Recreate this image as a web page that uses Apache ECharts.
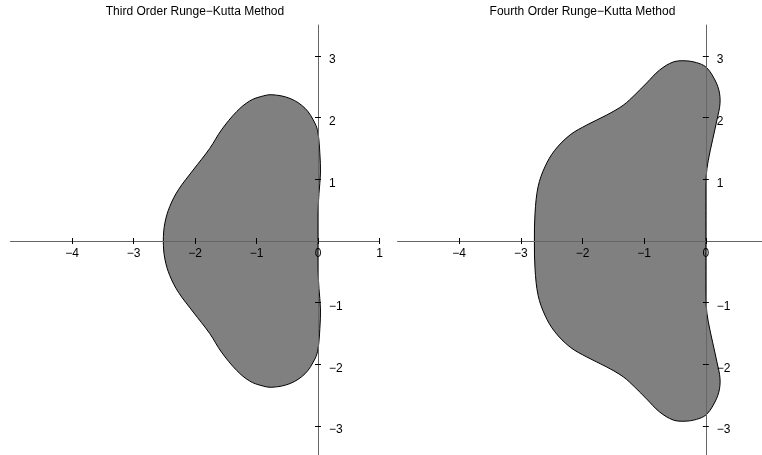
<!DOCTYPE html>
<html><head><meta charset="utf-8">
<script src="https://cdn.jsdelivr.net/npm/echarts@6/dist/echarts.min.js"></script>
<style>html,body{margin:0;padding:0;background:#fff}#c{width:762px;height:455px}</style>
</head><body><div id="c"></div>
<script>
const titles = ['Third Order Runge\u2212Kutta Method', 'Fourth Order Runge\u2212Kutta Method'];
const xTicks = [-4, -3, -2, -1, 0, 1];
const yTicks = [-3, -2, -1, 1, 2, 3];

// Third order boundary, closed curve
const rk3Re = [0, 0.0, 0.016, 0.04, 0.03, 0.0, -0.05, -0.21, -0.455, -0.75, -0.93, -1.11, -1.32, -1.57, -1.76, -2.03, -2.27, -2.41, -2.49, -2.515,
               -2.49, -2.41, -2.27, -2.03, -1.76, -1.57, -1.32, -1.11, -0.93, -0.75, -0.455, -0.21, -0.05, 0.0, 0.03, 0.04, 0.016, 0.0];
const rk3Im = [0, 0.45, 0.77, 1.10, 1.42, 1.75, 1.91, 2.15, 2.31, 2.37, 2.34, 2.27, 2.10, 1.80, 1.50, 1.15, 0.83, 0.56, 0.29, 0,
               -0.29, -0.56, -0.83, -1.15, -1.50, -1.80, -2.10, -2.27, -2.34, -2.37, -2.31, -2.15, -1.91, -1.75, -1.42, -1.10, -0.77, -0.45];

// Fourth order boundary, closed curve
const rk4Re = [0, 0, 0.005, 0.04, 0.11, 0.18, 0.23, 0.21, 0.12, 0, -0.15, -0.34, -0.53, -0.75, -0.96, -1.15, -1.34, -1.61, -1.93, -2.20, -2.45, -2.61, -2.72, -2.77, -2.78,
               -2.77, -2.72, -2.61, -2.45, -2.20, -1.93, -1.61, -1.34, -1.15, -0.96, -0.75, -0.53, -0.34, -0.15, 0, 0.12, 0.21, 0.23, 0.18, 0.11, 0.04, 0.005, 0];
const rk4Im = [0, 0.66, 1.04, 1.31, 1.64, 1.96, 2.23, 2.45, 2.66, 2.82, 2.89, 2.92, 2.90, 2.77, 2.56, 2.37, 2.20, 2.04, 1.88, 1.72, 1.47, 1.20, 0.88, 0.45, 0,
               -0.45, -0.88, -1.20, -1.47, -1.72, -1.88, -2.04, -2.20, -2.37, -2.56, -2.77, -2.90, -2.92, -2.89, -2.82, -2.66, -2.45, -2.23, -1.96, -1.64, -1.31, -1.04, -0.66];

const FONT = '"Liberation Sans", Arial, Helvetica, sans-serif';
const fmt = v => v < 0 ? '\u2212' + Math.abs(v) : String(v);

const X_MIN = -5, X_MAX = 1, Y_MIN = -3.5, Y_MAX = 3.5;
const TOP = 25, HEIGHT = 432;
const panels = [
  { left: 10.5, width: 369, re: rk3Re, im: rk3Im, title: titles[0] },
  { left: 397.5, width: 370, re: rk4Re, im: rk4Im, title: titles[1] }
];
const grid = [], xAxis = [], yAxis = [], series = [], graphic = [];
panels.forEach((p, k) => {
  // distance from grid edges to the zero lines, so axes cross at the origin
  const xOff = -HEIGHT * (0 - Y_MIN) / (Y_MAX - Y_MIN);
  const yOff = -p.width * (X_MAX - 0) / (X_MAX - X_MIN);
  for (let j = 0; j < 2; j++) {
    const gi = grid.length;
    const main = j === 0;
    grid.push({ left: p.left, top: TOP, width: p.width, height: HEIGHT, containLabel: false, outerBoundsMode: 'none' });
    xAxis.push({
      type: 'value', gridIndex: gi, min: X_MIN, max: X_MAX, position: 'bottom', offset: xOff, z: 10,
      axisLine: { show: main, onZero: false, lineStyle: { color: '#666', width: 1 } },
      axisTick: { show: true, inside: !main, length: 3, customValues: xTicks, lineStyle: { color: '#000', width: 1 } },
      axisLabel: { show: main, customValues: xTicks, formatter: fmt, margin: 7, fontFamily: FONT, fontSize: 12, color: '#000' },
      splitLine: { show: false }
    });
    yAxis.push({
      type: 'value', gridIndex: gi, min: Y_MIN, max: Y_MAX, position: 'right', offset: yOff, z: 10,
      axisLine: { show: main, onZero: false, lineStyle: { color: '#666', width: 1 } },
      axisTick: { show: true, inside: !main, length: 3, customValues: yTicks, lineStyle: { color: '#000', width: 1 } },
      axisLabel: { show: main, customValues: yTicks, formatter: fmt, margin: 11, verticalAlign: 'top', lineHeight: 8, fontFamily: FONT, fontSize: 12, color: '#000' },
      splitLine: { show: false }
    });
  }
  series.push({
    type: 'custom', xAxisIndex: 2 * k, yAxisIndex: 2 * k, data: [[0, 0]], z: 1, silent: true, clip: false,
    renderItem: (params, api) => ({
      type: 'polygon',
      shape: { points: p.re.map((x, i) => api.coord([x, p.im[i]])), smooth: 0.35 },
      style: { fill: '#808080', stroke: '#000', lineWidth: 1 }
    })
  });
  graphic.push({
    type: 'text', x: p.left + p.width / 2, y: 12,
    style: { text: p.title, font: '12px ' + FONT, fill: '#000', align: 'center', verticalAlign: 'middle' }
  });
});

const chart = echarts.init(document.getElementById('c'), null, { renderer: 'canvas' });
chart.setOption({ animation: false, backgroundColor: '#fff', grid, xAxis, yAxis, series, graphic });
</script>
</body></html>
